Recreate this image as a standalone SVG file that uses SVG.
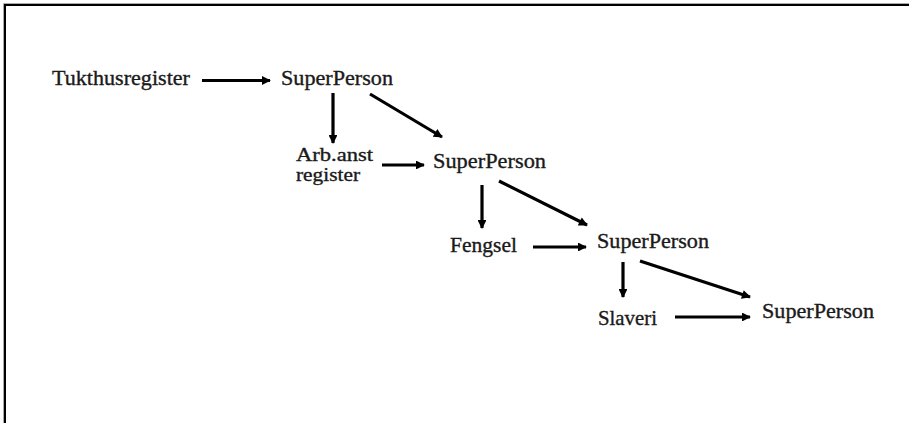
<svg xmlns="http://www.w3.org/2000/svg" width="909" height="423" viewBox="0 0 909 423">
<defs>
<marker id="ah" viewBox="0 0 10 10" refX="9" refY="5" markerWidth="3" markerHeight="2.8" orient="auto" markerUnits="strokeWidth">
<path d="M0,0 L10,5 L0,10 z" fill="#000"/>
</marker>
<style>
text{font-family:"Liberation Serif","Times New Roman",serif;font-size:21px;fill:#1a1a1a;stroke:#1a1a1a;stroke-width:0.35}
.sm{font-size:18.5px}
.c line{stroke:#000;stroke-width:3.2;marker-end:url(#ah)}
</style>
</defs>
<rect width="909" height="423" fill="#fff"/>
<path d="M3.5,423 V3.5 H909" fill="none" stroke="#aaa" stroke-width="1"/>
<path d="M5,423 V5 H909" fill="none" stroke="#000" stroke-width="2"/>
<g id="n-tukthus"><text x="52" y="85" textLength="138" lengthAdjust="spacingAndGlyphs">Tukthusregister</text></g>
<g id="n-sp1"><text x="281" y="85" textLength="112" lengthAdjust="spacingAndGlyphs">SuperPerson</text></g>
<g id="n-arb"><text class="sm" x="296" y="161" textLength="77" lengthAdjust="spacingAndGlyphs">Arb.anst</text><text class="sm" x="296" y="181" textLength="64" lengthAdjust="spacingAndGlyphs">register</text></g>
<g id="n-sp2"><text x="433" y="168" textLength="113" lengthAdjust="spacingAndGlyphs">SuperPerson</text></g>
<g id="n-fengsel"><text x="450" y="252" textLength="67" lengthAdjust="spacingAndGlyphs">Fengsel</text></g>
<g id="n-sp3"><text x="597" y="248" textLength="112" lengthAdjust="spacingAndGlyphs">SuperPerson</text></g>
<g id="n-slaveri"><text x="598" y="325" textLength="59" lengthAdjust="spacingAndGlyphs">Slaveri</text></g>
<g id="n-sp4"><text x="762" y="318" textLength="112" lengthAdjust="spacingAndGlyphs">SuperPerson</text></g>
<g id="connectors" class="c">
<line x1="202" y1="80.5" x2="270" y2="80.5"/>
<line x1="333" y1="93" x2="333" y2="143"/>
<line x1="370" y1="94" x2="442" y2="137"/>
<line x1="382" y1="165" x2="424" y2="165"/>
<line x1="482" y1="185" x2="482" y2="228"/>
<line x1="499" y1="181" x2="587" y2="225"/>
<line x1="533" y1="247" x2="586" y2="247"/>
<line x1="623" y1="262" x2="623" y2="297"/>
<line x1="640" y1="261" x2="750" y2="297"/>
<line x1="675" y1="317" x2="750" y2="317"/>
</g>
</svg>
